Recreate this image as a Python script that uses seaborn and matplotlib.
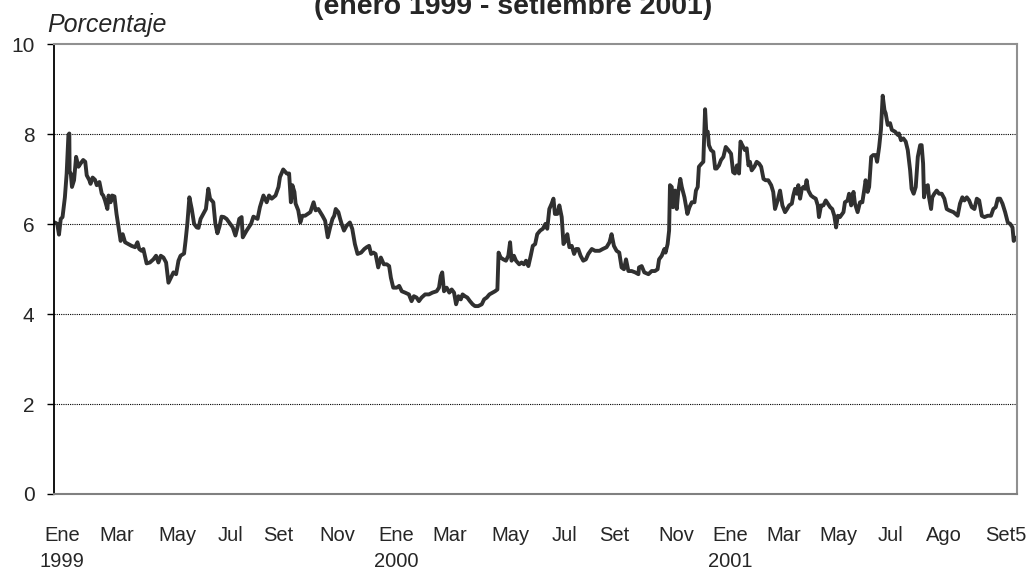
import numpy as np
import pandas as pd
import matplotlib
matplotlib.use("Agg")
import matplotlib.pyplot as plt
import seaborn as sns

# Tasa de interes (porcentaje); x = meses desde ene-1999
meses_1 = [0.03, 0.11, 0.17, 0.23, 0.29, 0.37, 0.43, 0.49, 0.52, 0.53, 0.57, 0.61, 0.68, 0.75, 0.83,
           0.90, 0.99, 1.06, 1.11, 1.20, 1.24, 1.31, 1.39, 1.45, 1.54, 1.62, 1.67, 1.73, 1.81, 1.85,
           1.92, 1.97, 2.05, 2.12, 2.19, 2.26, 2.33, 2.41, 2.52, 2.63, 2.75, 2.83, 2.89, 2.97, 3.03,
           3.14, 3.25, 3.37, 3.46, 3.54, 3.62, 3.71, 3.80, 3.88, 3.96, 4.05, 4.14, 4.22, 4.29, 4.41,
           4.46, 4.52, 4.59, 4.67, 4.75, 4.84, 4.90, 4.97, 5.06, 5.15, 5.23, 5.29, 5.40, 5.47, 5.54,
           5.61, 5.68, 5.76, 5.85, 5.94, 6.06, 6.15, 6.22, 6.28, 6.36, 6.40, 6.53, 6.64]
tasa_1 = [6.04, 6.01, 5.77, 6.12, 6.16, 6.60, 7.13, 7.99, 8.02, 7.16, 7.13, 6.83, 6.98, 7.50, 7.28,
          7.35, 7.43, 7.39, 7.09, 6.98, 6.90, 7.04, 6.99, 6.87, 6.94, 6.68, 6.64, 6.53, 6.34, 6.64,
          6.49, 6.64, 6.62, 6.23, 5.93, 5.63, 5.78, 5.60, 5.56, 5.52, 5.49, 5.60, 5.45, 5.41, 5.45,
          5.13, 5.15, 5.22, 5.30, 5.15, 5.30, 5.26, 5.15, 4.70, 4.81, 4.93, 4.89, 5.19, 5.30, 5.35,
          5.63, 6.01, 6.60, 6.34, 6.01, 5.93, 5.92, 6.12, 6.23, 6.34, 6.79, 6.57, 6.49, 6.01, 5.80,
          5.95, 6.17, 6.16, 6.12, 6.04, 5.93, 5.75, 5.93, 6.12, 6.16, 5.71, 5.86, 5.97]

meses_2 = [6.68, 6.76, 6.90, 6.98, 7.10, 7.21, 7.29, 7.38, 7.51, 7.61, 7.66, 7.77, 7.89, 7.97, 8.03,
           8.08, 8.15, 8.19, 8.28, 8.35, 8.42, 8.51, 8.60, 8.69, 8.80, 8.87, 8.96, 9.10, 9.19, 9.28,
           9.36, 9.44, 9.50, 9.55, 9.64, 9.70, 9.75, 9.83, 9.92, 10.03, 10.11, 10.20, 10.29, 10.41, 10.52,
           10.60, 10.68, 10.75, 10.83, 10.90, 10.99, 11.08, 11.18, 11.28, 11.36, 11.42, 11.50, 11.62, 11.70, 11.79,
           11.90, 12.03, 12.12, 12.20, 12.29, 12.37, 12.46, 12.58, 12.71, 12.83, 12.97, 13.05, 13.11, 13.16]
tasa_2 = [6.01, 6.17, 6.12, 6.38, 6.64, 6.49, 6.64, 6.57, 6.64, 6.83, 7.05, 7.22, 7.13, 7.13, 6.49,
          6.87, 6.72, 6.46, 6.31, 6.04, 6.19, 6.19, 6.23, 6.27, 6.49, 6.31, 6.34, 6.19, 6.08, 5.71,
          5.93, 6.12, 6.19, 6.34, 6.27, 6.12, 6.01, 5.86, 5.97, 6.04, 5.90, 5.56, 5.34, 5.37, 5.45,
          5.49, 5.52, 5.34, 5.37, 5.34, 5.04, 5.26, 5.11, 5.11, 5.07, 4.81, 4.59, 4.59, 4.63, 4.51,
          4.48, 4.44, 4.29, 4.40, 4.37, 4.29, 4.37, 4.44, 4.44, 4.48, 4.51, 4.59, 4.85, 4.93]

meses_3 = [13.22, 13.31, 13.40, 13.48, 13.56, 13.63, 13.71, 13.79, 13.85, 13.93, 14.01, 14.10, 14.19, 14.27, 14.38,
           14.50, 14.58, 14.67, 14.76, 14.87, 14.95, 15.03, 15.07, 15.14, 15.23, 15.32, 15.40, 15.46, 15.51, 15.59,
           15.66, 15.77, 15.85, 15.93, 16.00, 16.08, 16.16, 16.23, 16.31, 16.38, 16.48, 16.57, 16.66, 16.72, 16.79,
           16.87, 16.93, 16.98, 17.06, 17.13, 17.21, 17.27, 17.33, 17.40, 17.47, 17.55, 17.63, 17.70, 17.77, 17.85,
           17.94, 18.03, 18.11, 18.23, 18.34, 18.49, 18.60, 18.73, 18.83, 18.90, 18.98, 19.07, 19.16, 19.24, 19.32,
           19.39, 19.47, 19.58, 19.70, 19.81]
tasa_3 = [4.51, 4.59, 4.48, 4.55, 4.48, 4.22, 4.40, 4.33, 4.44, 4.40, 4.37, 4.29, 4.22, 4.18, 4.18,
          4.22, 4.33, 4.37, 4.44, 4.48, 4.51, 4.55, 5.37, 5.26, 5.22, 5.19, 5.30, 5.60, 5.19, 5.30,
          5.19, 5.11, 5.15, 5.11, 5.19, 5.07, 5.30, 5.52, 5.56, 5.78, 5.86, 5.90, 6.01, 5.90, 6.34,
          6.46, 6.57, 6.23, 6.23, 6.42, 6.16, 5.56, 5.63, 5.78, 5.49, 5.52, 5.34, 5.45, 5.45, 5.30,
          5.19, 5.22, 5.34, 5.45, 5.41, 5.41, 5.45, 5.49, 5.60, 5.78, 5.52, 5.41, 5.37, 5.04, 5.00,
          5.22, 4.96, 4.96, 4.93, 4.89]

meses_4 = [19.83, 19.92, 20.01, 20.15, 20.26, 20.37, 20.46, 20.51, 20.60, 20.69, 20.73, 20.80, 20.85, 20.88, 20.94,
           20.98, 21.05, 21.11, 21.16, 21.23, 21.28, 21.37, 21.47, 21.54, 21.62, 21.71, 21.76, 21.82, 21.86, 21.95,
           22.01, 22.07, 22.11, 22.16, 22.20, 22.27, 22.35, 22.41, 22.46, 22.54, 22.61, 22.69, 22.77, 22.86, 22.95,
           23.02, 23.08, 23.15, 23.22, 23.27, 23.33, 23.42, 23.48, 23.54, 23.59, 23.65, 23.74, 23.82, 23.90, 23.97,
           24.05, 24.12, 24.21, 24.31, 24.38, 24.44, 24.53, 24.61, 24.69, 24.78, 24.85, 24.92, 25.01, 25.06, 25.12,
           25.18, 25.23, 25.29, 25.35, 25.40, 25.46, 25.51, 25.57, 25.66, 25.74, 25.82, 25.89, 25.93, 26.00, 26.08,
           26.16, 26.23, 26.31, 26.38]
tasa_4 = [5.04, 5.07, 4.93, 4.89, 4.96, 4.96, 5.00, 5.22, 5.30, 5.45, 5.37, 5.56, 5.86, 6.87, 6.83,
          6.38, 6.75, 6.34, 6.72, 7.01, 6.83, 6.60, 6.23, 6.38, 6.49, 6.49, 6.75, 6.83, 7.28, 7.35,
          7.39, 8.56, 8.06, 8.06, 7.76, 7.65, 7.61, 7.24, 7.24, 7.31, 7.43, 7.50, 7.72, 7.65, 7.57,
          7.16, 7.13, 7.31, 7.13, 7.84, 7.76, 7.65, 7.69, 7.31, 7.39, 7.20, 7.28, 7.39, 7.35, 7.28,
          7.01, 6.98, 6.98, 6.87, 6.72, 6.34, 6.53, 6.75, 6.42, 6.27, 6.34, 6.42, 6.46, 6.64, 6.79,
          6.68, 6.87, 6.57, 6.79, 6.83, 6.79, 6.98, 6.75, 6.64, 6.60, 6.57, 6.42, 6.16, 6.42, 6.42,
          6.53, 6.46, 6.38, 6.34]

meses_5 = [26.45, 26.51, 26.57, 26.64, 26.76, 26.81, 26.90, 26.95, 27.02, 27.10, 27.15, 27.24, 27.32, 27.40, 27.47,
           27.51, 27.58, 27.63, 27.70, 27.77, 27.85, 27.90, 27.97, 28.03, 28.09, 28.15, 28.19, 28.26, 28.34, 28.40,
           28.51, 28.60, 28.64, 28.71, 28.79, 28.87, 28.94, 29.02, 29.07, 29.14, 29.21, 29.28, 29.36, 29.41, 29.46,
           29.49, 29.55, 29.62, 29.66, 29.73, 29.77, 29.84, 29.92, 30.00, 30.09, 30.18, 30.26, 30.34, 30.49, 30.63,
           30.71, 30.79, 30.86, 30.94, 31.02, 31.11, 31.20, 31.28, 31.36, 31.45, 31.54, 31.65, 31.76, 31.84, 31.92,
           31.99, 32.07, 32.15, 32.24, 32.33, 32.41, 32.49, 32.53, 32.58, 32.63]
tasa_5 = [6.19, 5.93, 6.19, 6.16, 6.27, 6.49, 6.53, 6.68, 6.42, 6.72, 6.46, 6.27, 6.49, 6.49, 6.79,
          6.98, 6.72, 6.83, 7.50, 7.54, 7.54, 7.39, 7.72, 8.10, 8.86, 8.54, 8.47, 8.21, 8.25, 8.10,
          8.06, 7.99, 8.02, 7.87, 7.91, 7.84, 7.65, 7.20, 6.79, 6.68, 6.83, 7.50, 7.76, 7.76, 7.35,
          6.60, 6.83, 6.87, 6.60, 6.34, 6.60, 6.68, 6.75, 6.68, 6.68, 6.57, 6.34, 6.31, 6.27, 6.19,
          6.46, 6.60, 6.53, 6.60, 6.53, 6.38, 6.34, 6.57, 6.53, 6.19, 6.16, 6.19, 6.19, 6.34, 6.38,
          6.57, 6.57, 6.46, 6.27, 6.04, 6.01, 5.93, 5.63, 5.67, 5.71]

# Etiquetas del eje x (posicion en meses)
pos_etiquetas = [0.27, 2.14, 4.20, 5.97, 7.59, 9.59, 11.59, 13.42, 15.46, 17.29, 19.00, 21.10,
                 22.92, 24.75, 26.58, 28.34, 30.17, 32.27]
etiquetas = ["Ene\n1999", "Mar", "May", "Jul", "Set", "Nov", "Ene\n2000", "Mar", "May", "Jul",
             "Set", "Nov", "Ene\n2001", "Mar", "May", "Jul", "Ago", "Set5"]

df = pd.DataFrame({
    "mes": np.concatenate([meses_1, meses_2, meses_3, meses_4, meses_5]),
    "tasa": np.concatenate([tasa_1, tasa_2, tasa_3, tasa_4, tasa_5]),
})

sns.set_style("white")
plt.rcParams["font.family"] = ["Liberation Sans", "DejaVu Sans"]

fig = plt.figure(figsize=(10.32, 5.74), dpi=100)
ax = fig.add_axes([0.0523, 0.1394, 0.9331, 0.7831])

sns.lineplot(data=df, x="mes", y="tasa", ax=ax, sort=False, estimator=None,
             color="#303030", linewidth=2.8)

ax.set_xlim(0, 32.64)
ax.set_ylim(0, 10)
ax.set_yticks(range(0, 11, 2))
ax.set_xticks(pos_etiquetas, etiquetas, linespacing=1.5)

ax.set_xlabel("")
ax.set_ylabel("")
ax.tick_params(axis="x", length=0, pad=23, labelsize=14.5)
ax.tick_params(axis="y", left=True, length=5, width=1, color="black", pad=9, labelsize=15)

ax.yaxis.grid(True, color="black", linestyle=(0, (1, 1)), linewidth=0.8)
ax.xaxis.grid(False)
gl = ax.get_ygridlines()
gl[0].set_visible(False)
gl[-1].set_visible(False)

ax.spines["left"].set_color("black")
ax.spines["left"].set_linewidth(1.3)
ax.spines["bottom"].set_color("#808080")
ax.spines["bottom"].set_linewidth(1.5)
ax.spines["top"].set_color("#909090")
ax.spines["top"].set_linewidth(1.5)
ax.spines["right"].set_color("#909090")
ax.spines["right"].set_linewidth(1.5)

fig.text(0.497, 1 - 14 / 574, "(enero 1999 - setiembre 2001)", ha="center", va="baseline",
         fontsize=20.5, fontweight="bold")
fig.text(47 / 1032, 1 - 32 / 574, "Porcentaje", ha="left", va="baseline",
         fontsize=18, fontstyle="italic")

fig.savefig("out.png", dpi=100)
